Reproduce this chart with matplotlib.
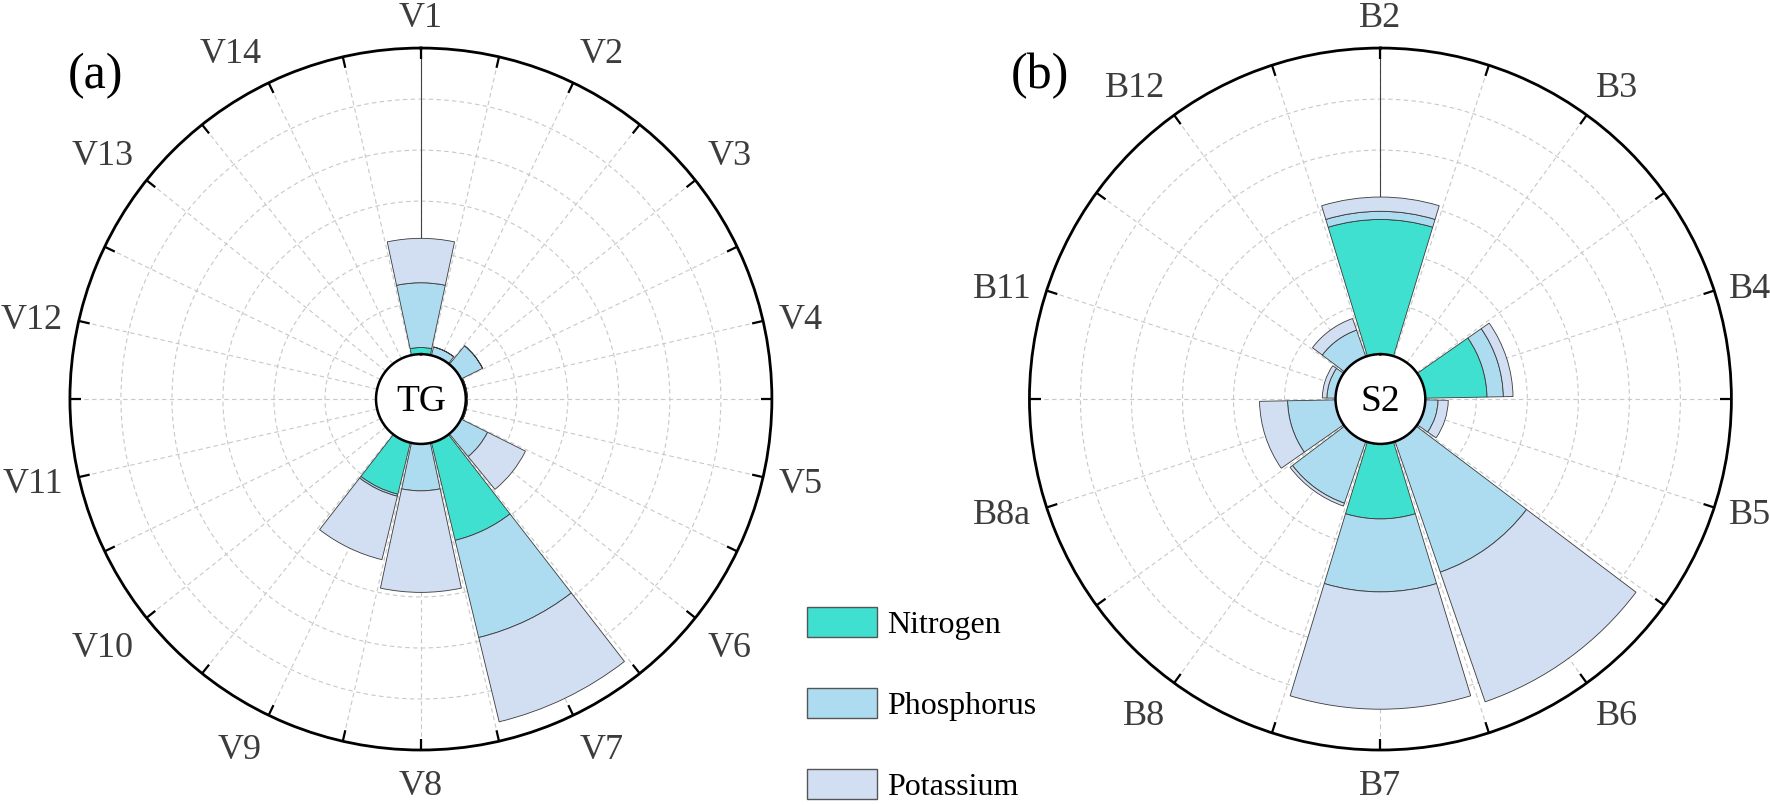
import numpy as np
import matplotlib
matplotlib.use("Agg")
import matplotlib.pyplot as plt
from matplotlib.patches import Patch

plt.rcParams['font.family'] = ['Liberation Serif', 'DejaVu Serif']

# ---- data ----
cats_a = ['V1', 'V2', 'V3', 'V4', 'V5', 'V6', 'V7',
          'V8', 'V9', 'V10', 'V11', 'V12', 'V13', 'V14']
nitro_a = [0.13, 0, 0, 0, 0, 0, 1.97, 0, 1.04, 0, 0, 0, 0, 0]
phos_a = [1.27, 0.17, 0.47, 0.03, 0.03, 0.58, 1.96, 0.92, 0.04, 0, 0, 0, 0, 0]
potas_a = [0.87, 0, 0, 0, 0, 0.83, 1.70, 1.99, 1.28, 0, 0, 0, 0, 0]

cats_b = ['B2', 'B3', 'B4', 'B5', 'B6', 'B7', 'B8', 'B8a', 'B11', 'B12']
nitro_b = [2.64, 0, 1.21, 0, 0, 1.47, 0, 0, 0, 0]
phos_b = [0.16, 0, 0.32, 0.25, 2.71, 1.43, 1.28, 0.94, 0.17, 0.55]
potas_b = [0.28, 0, 0.19, 0.20, 2.69, 2.30, 0.06, 0.55, 0.09, 0.24]

colors = {'Nitrogen': '#40E0D0', 'Phosphorus': '#ADDCF0', 'Potassium': '#D2DEF1'}
EDGE = '#3a3a3a'
LABEL_FS = 26
RMAX = 6


def polar_panel(ax, cats, nitro, phos, potas, center_txt):
    n = len(cats)
    theta = np.arange(n) * 2 * np.pi / n
    width = 2 * np.pi / n * 0.94
    ax.set_theta_zero_location('N')
    ax.set_theta_direction(-1)

    nitro = np.array(nitro)
    phos = np.array(phos)
    potas = np.array(potas)
    ax.bar(theta, nitro, width=width, color=colors['Nitrogen'],
           edgecolor=EDGE, linewidth=0.6, zorder=2)
    ax.bar(theta, phos, width=width, bottom=nitro, color=colors['Phosphorus'],
           edgecolor=EDGE, linewidth=0.6, zorder=2)
    ax.bar(theta, potas, width=width, bottom=nitro + phos, color=colors['Potassium'],
           edgecolor=EDGE, linewidth=0.6, zorder=2)

    # radial axis line at the first category
    ax.plot([0, 0], [0, RMAX], color='#444444', lw=0.8, zorder=1.8)

    ax.set_ylim(0, RMAX)
    ax.set_rorigin(-0.88)
    ax.set_yticks([1, 2, 3, 4, 5])
    ax.set_yticklabels([])
    ax.tick_params(axis='y', length=0)

    ticks = np.arange(2 * n) * np.pi / n
    ax.set_xticks(ticks)
    ax.set_xticklabels([''] * len(ticks))
    ax.tick_params(axis='x', length=0)
    ax.grid(True, color='#c8c8c8', linestyle=(0, (4, 3)), linewidth=0.8)
    # inward tick marks on the outer circle
    ax.vlines(ticks, RMAX - 0.22, RMAX, colors='black', linewidth=1.6, zorder=4)
    ax.spines['polar'].set_linewidth(2.0)
    ax.spines['inner'].set_linewidth(1.8)
    ax.spines['inner'].set_color('black')

    # category labels around the circle
    cap = LABEL_FS * 0.66
    for t, s in zip(theta, cats):
        sn, cs = np.sin(t), np.cos(t)
        if abs(sn) < 1e-6:
            ha = 'center'
        else:
            ha = 'left' if sn > 0 else 'right'
        v = 12.2 * np.clip((abs(cs) - 0.31) / 0.3, 0, 1) * np.sign(cs)
        dx = 11.5 * sn
        dy = 11.5 * cs + v - cap / 2
        ax.annotate(s, xy=(t, RMAX), xytext=(dx, dy),
                    textcoords='offset points', ha=ha, va='baseline',
                    fontsize=LABEL_FS, color='#3c3c3c', annotation_clip=False)

    ax.annotate(center_txt, xy=(0.5, 0.5), xycoords='axes fraction',
                xytext=(0, -27 * 0.66 / 2), textcoords='offset points',
                ha='center', va='baseline', fontsize=27, color='black', zorder=5)


fig = plt.figure(figsize=(17.7, 8.05), dpi=100)
ax1 = fig.add_axes([0.0395, 0.0683, 0.3966, 0.8720], projection='polar')
ax2 = fig.add_axes([0.5816, 0.0683, 0.3966, 0.8720], projection='polar')

polar_panel(ax1, cats_a, nitro_a, phos_a, potas_a, 'TG')
polar_panel(ax2, cats_b, nitro_b, phos_b, potas_b, 'S2')

fig.text(0.0380, 0.8907, '(a)', fontsize=36, color='black', ha='left', va='baseline')
fig.text(0.5712, 0.8907, '(b)', fontsize=36, color='black', ha='left', va='baseline')

handles = [Patch(facecolor=c, edgecolor='#555555', linewidth=1.0, label=k)
           for k, c in colors.items()]
fig.legend(handles=handles, loc='upper left', bbox_to_anchor=(0.456, 0.246),
           frameon=False, fontsize=23, handlelength=2.2, handleheight=1.07,
           labelspacing=1.5, handletextpad=0.3, borderpad=0, borderaxespad=0)

fig.savefig('out.png', dpi=100)
